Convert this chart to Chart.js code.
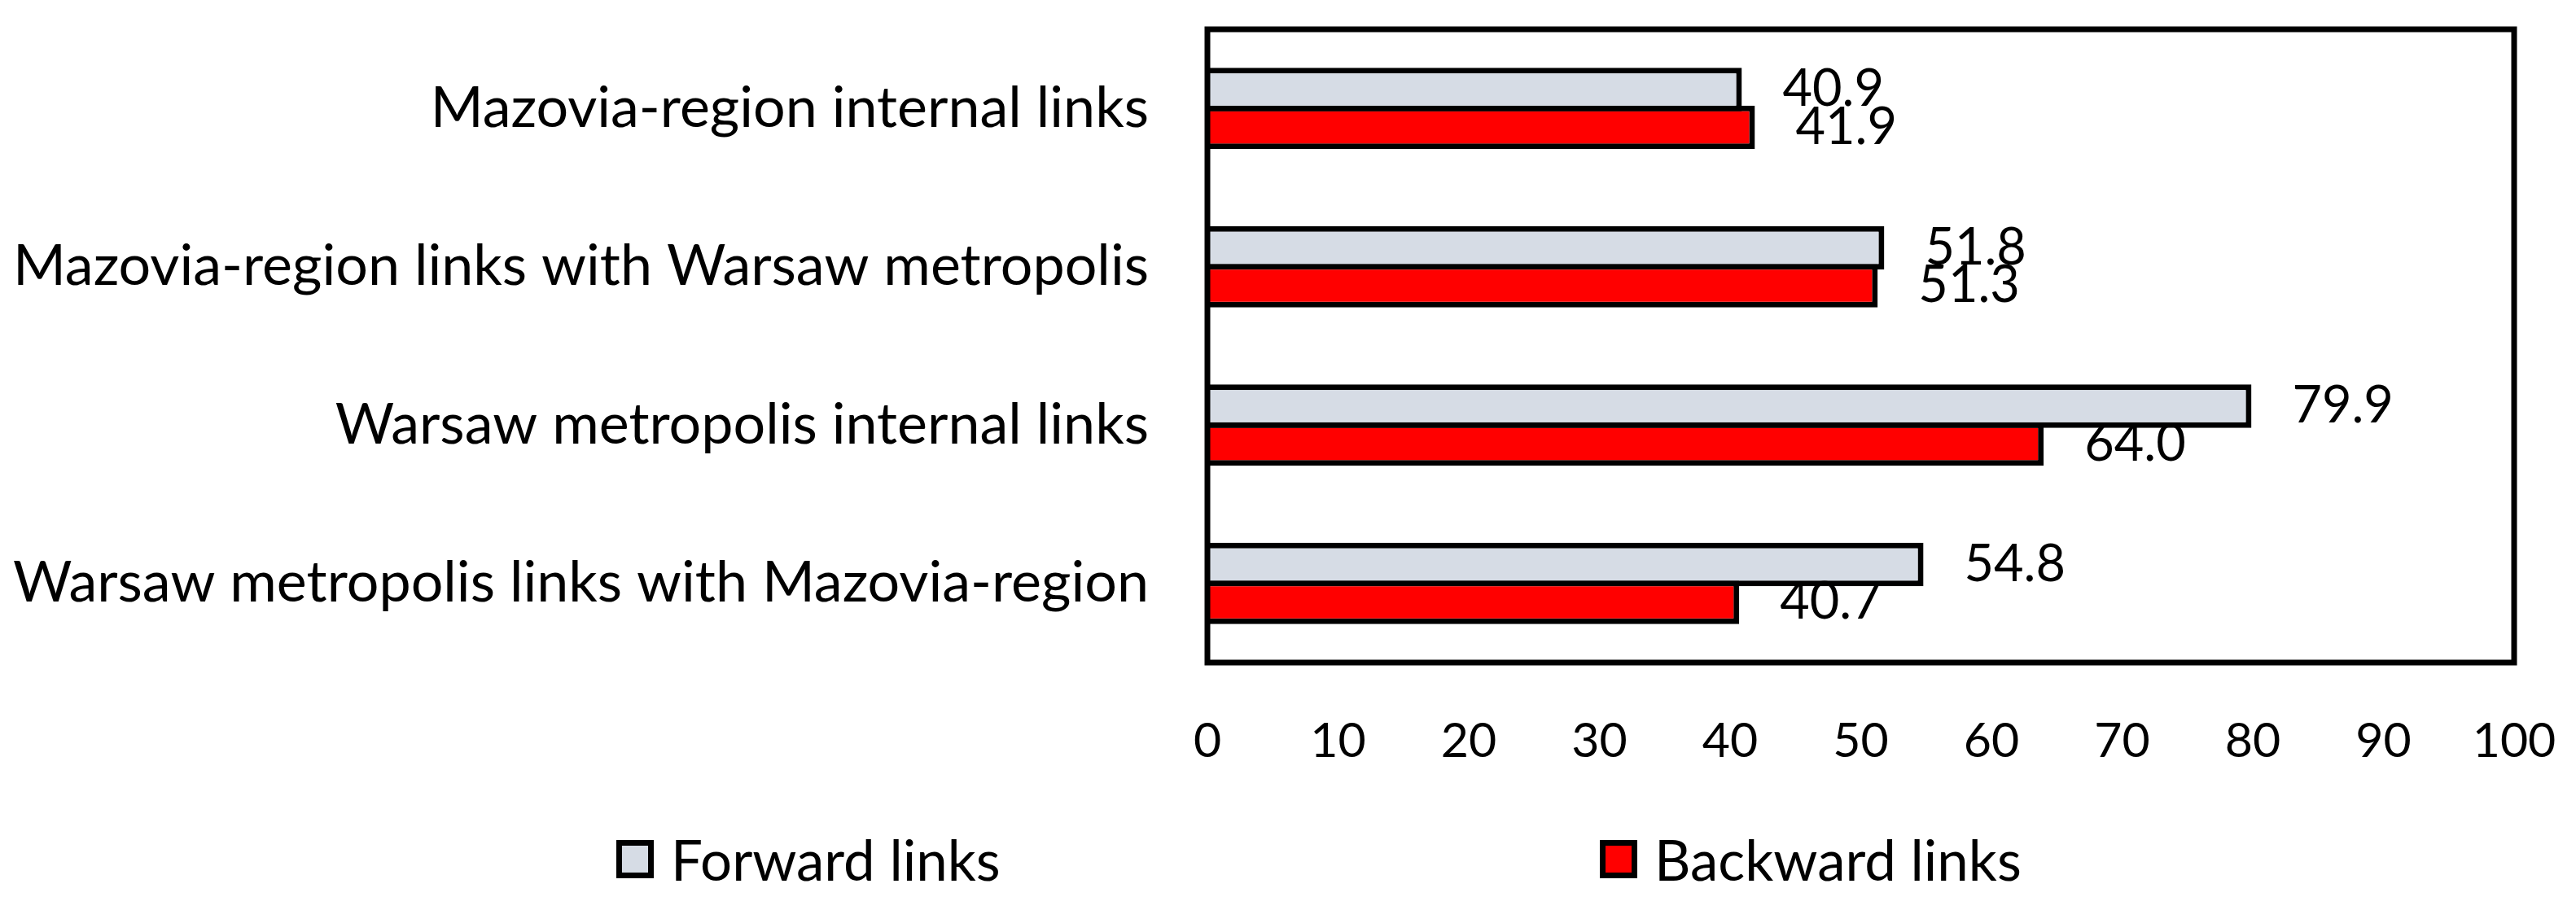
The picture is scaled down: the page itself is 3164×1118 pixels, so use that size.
<!DOCTYPE html>
<html lang="en">
<head>
    <meta charset="UTF-8">
    <title>Forward and backward links</title>
    <script src="https://cdn.jsdelivr.net/npm/chart.js"></script>
    <style>
        body { margin: 0; background: #fff; font-family: Lato, sans-serif; }
        .wrap { position: relative; width: 3164px; height: 1118px; }
        .legend-item { position: absolute; top: 1014px; height: 83px; display: flex; align-items: center; font-size: 69px; line-height: 83px; color: #000; }
        .legend-box { width: 32px; height: 33px; border: 7px solid #000; margin-right: 21px; }
    </style>
</head>
<body>
    <div class="wrap">
        <canvas id="chart" width="3164" height="1118"></canvas>
        <div id="legend"></div>
    </div>

    <script>
        const categories = [
            "Mazovia-region internal links",
            "Mazovia-region links with Warsaw metropolis",
            "Warsaw metropolis internal links",
            "Warsaw metropolis links with Mazovia-region"
        ];
        const forwardLinks = [40.9, 51.8, 79.9, 54.8];
        const backwardLinks = [41.9, 51.3, 64.0, 40.7];
        const xTickValues = [0, 10, 20, 30, 40, 50, 60, 70, 80, 90, 100];

        const TICK_FONT = { family: "Lato", size: 59 };
        const VALUE_FONT = { family: "Lato", size: 63 };
        const CAT_FONT = { family: "Lato", size: 70 };

        // values written just right of each bar end
        const valueLabels = {
            id: "valueLabels",
            afterDatasetsDraw(chart) {
                const ctx = chart.ctx;
                ctx.save();
                ctx.font = `${VALUE_FONT.size}px ${VALUE_FONT.family}`;
                ctx.fillStyle = "#000";
                ctx.textAlign = "left";
                ctx.textBaseline = "middle";
                chart.data.datasets.forEach((ds, i) => {
                    chart.getDatasetMeta(i).data.forEach((bar, j) => {
                        ctx.fillText(ds.data[j].toFixed(1), bar.x + 50, bar.y);
                    });
                });
                ctx.restore();
            }
        };

        // black frame round the plot area
        const plotFrame = {
            id: "plotFrame",
            afterDatasetsDraw(chart) {
                const { left, top, right, bottom } = chart.chartArea;
                const ctx = chart.ctx;
                ctx.save();
                ctx.strokeStyle = "#000";
                ctx.lineWidth = 7;
                ctx.strokeRect(left, top, right - left, bottom - top);
                ctx.restore();
            }
        };

        const chart = new Chart(document.getElementById("chart"), {
            type: "bar",
            data: {
                labels: categories,
                datasets: [
                    {
                        label: "Forward links",
                        data: forwardLinks,
                        backgroundColor: "#D6DCE5",
                        borderColor: "#000",
                        borderWidth: 7
                    },
                    {
                        label: "Backward links",
                        data: backwardLinks,
                        backgroundColor: "#FF0000",
                        borderColor: "#000",
                        borderWidth: 7
                    }
                ]
            },
            options: {
                indexAxis: "y",
                responsive: false,
                animation: false,
                categoryPercentage: 0.478,
                barPercentage: 1.15,
                layout: { padding: { top: 36, right: 76, bottom: 0, left: 0 } },
                plugins: {
                    legend: { display: false },
                    tooltip: { enabled: false }
                },
                scales: {
                    x: {
                        min: 0,
                        max: 100,
                        afterBuildTicks: (scale) => {
                            scale.ticks = xTickValues.map(v => ({ value: v }));
                        },
                        afterFit: (scale) => {
                            scale.height = 304;
                            scale.paddingLeft = 0;
                            scale.paddingRight = 0;
                        },
                        grid: { display: false, drawTicks: false },
                        border: { display: false },
                        ticks: { color: "#000", font: TICK_FONT, padding: 62, maxRotation: 0 }
                    },
                    y: {
                        afterFit: (scale) => {
                            scale.width = 1483;
                            scale.paddingTop = 0;
                            scale.paddingBottom = 0;
                        },
                        grid: { display: false, drawTicks: false },
                        border: { display: false },
                        ticks: { color: "#000", font: CAT_FONT, padding: 72 }
                    }
                }
            },
            plugins: [valueLabels, plotFrame]
        });

        // legend built from the datasets
        const legendLeft = [757, 1965];
        const legend = document.getElementById("legend");
        chart.data.datasets.forEach((ds, i) => {
            const item = document.createElement("div");
            item.className = "legend-item";
            item.style.left = legendLeft[i] + "px";
            const box = document.createElement("div");
            box.className = "legend-box";
            box.style.background = ds.backgroundColor;
            const text = document.createElement("span");
            text.textContent = ds.label;
            item.appendChild(box);
            item.appendChild(text);
            legend.appendChild(item);
        });
    </script>
</body>
</html>
